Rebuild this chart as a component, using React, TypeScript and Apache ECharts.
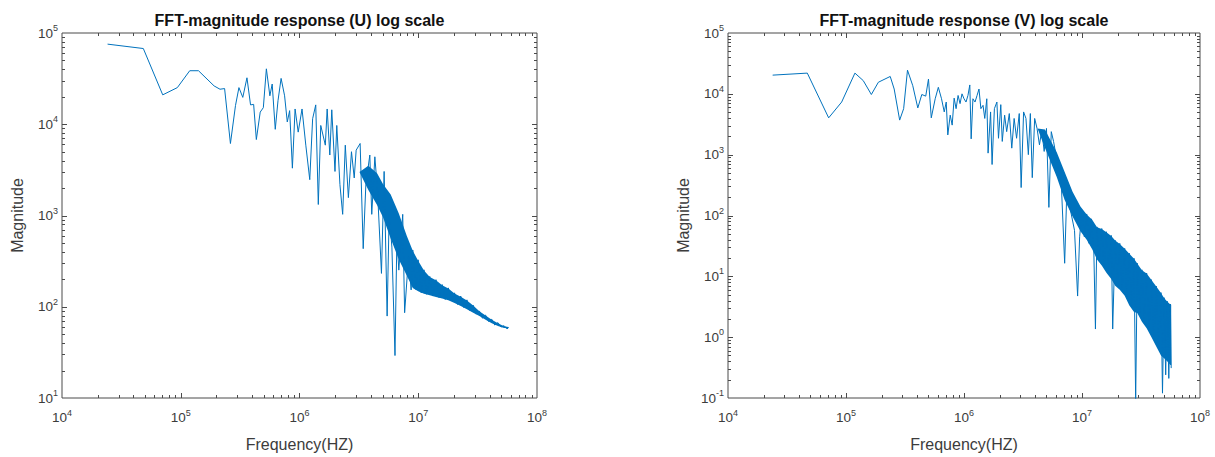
import React, { useEffect, useRef } from "react";
import * as echarts from "echarts";

// ---------- data: FFT magnitude (U) ----------
const freqU = [
  24200, 48400, 70500, 93600, 119000, 141000, 191000, 214000, 234000, 262000,
  289000, 309000, 333000, 361000, 387000, 411000, 433000, 467000, 496000, 526000,
  563000, 589000, 625000, 659000, 700000, 749000, 789000, 826000, 871000, 918000,
  975000, 1050000, 1130000, 1220000, 1290000, 1370000, 1440000, 1510000, 1650000, 1710000,
  1800000, 1870000, 1990000, 2060000, 2190000, 2310000, 2430000, 2580000, 2740000, 2890000,
  3000000, 3240000, 3440000, 3620000, 3910000, 4060000, 4310000, 4540000, 4900000, 5160000,
  5470000, 5690000, 6000000, 6370000, 6610000, 6860000, 7400000, 7680000, 8280000, 8710000,
  8990000, 9540000, 9980000, 10600000, 11170000, 11770000, 12500000, 13280000, 14100000, 14970000,
  15900000, 16880000, 17920000, 19040000, 20200000, 21460000, 22790000, 24200000, 25700000, 27300000,
  29000000, 30800000, 32700000, 34700000, 36900000, 39100000, 41600000, 44100000, 46900000, 49800000,
  52800000, 56100000, 57400000,
];
const magU = [
  75500, 67600, 21000, 25200, 38600, 38600, 26300, 24200, 24600, 6150,
  16000, 25200, 19700, 32300, 16300, 16500, 6800, 13600, 15200, 40500,
  20500, 27600, 8800, 18100, 31800, 20500, 10600, 14100, 3300, 14700,
  8200, 14700, 5900, 2470, 11500, 16300, 1320, 9700, 5900, 14700,
  4600, 14400, 3040, 9700, 2180, 1030, 5900, 1570, 5000, 2580,
  5200, 6150, 433, 2180, 4600, 1030, 4400, 1850, 232, 3040,
  79, 1030, 451, 29.2, 578, 252, 1030, 86, 351, 153,
  419, 155, 327, 142, 254, 137, 215, 131, 198, 126,
  175, 120, 161, 116, 142, 106, 131, 98, 119, 90,
  104, 83, 90, 75, 81, 69, 73, 63, 67, 60,
  62, 57, 60,
];
// dense core of the U spectrum (lower / upper envelope)
const bandFreqU = [3200000, 3800000, 4500000, 5060000, 5860000, 6860000, 8000000, 8990000, 9980000, 11170000, 12500000, 14100000, 15900000, 17920000, 20200000, 22790000, 25700000, 29000000, 32700000, 36900000, 41600000, 46900000, 52800000, 57400000];
const bandHiU = [3000, 3500, 2900, 2200, 1700, 1050, 600, 410, 320, 250, 212, 195, 172, 158, 140, 129, 117, 103, 89, 80, 72, 66, 61, 60];
const bandLoU = [3000, 1900, 1300, 950, 560, 330, 220, 160, 148, 139, 134, 128, 123, 118, 110, 102, 94, 86, 79, 72, 66, 61.5, 58.5, 58];

// ---------- data: FFT magnitude (V) ----------
const freqV = [
  23900, 47000, 71300, 91900, 119000, 140000, 164000, 188000, 237000, 256000,
  285000, 308000, 332000, 368000, 406000, 439000, 474000, 500000, 528000, 570000,
  606000, 645000, 680000, 707000, 729000, 764000, 794000, 825000, 857000, 891000,
  926000, 962000, 1000000, 1040000, 1080000, 1120000, 1150000, 1190000, 1240000, 1290000,
  1340000, 1390000, 1450000, 1500000, 1560000, 1600000, 1680000, 1730000, 1810000, 1900000,
  1960000, 2050000, 2110000, 2210000, 2300000, 2420000, 2540000, 2660000, 2790000, 2940000,
  3050000, 3200000, 3350000, 3510000, 3650000, 3790000, 3970000, 4160000, 4360000, 4560000,
  4780000, 5000000, 5240000, 5490000, 5740000, 6010000, 6350000, 6700000, 7130000, 7410000,
  8000000, 8640000, 9180000, 9550000,
  10000000, 10470000, 10960000, 11480000, 12020000, 12590000, 13000000, 13400000, 14000000, 14700000,
  15400000, 16100000, 16900000, 17700000, 18200000, 19100000, 20000000, 20900000, 21900000, 23000000,
  24000000, 25200000, 26400000, 27600000, 28500000, 29400000, 30800000, 32200000, 33700000, 35300000,
  37000000, 38800000, 40600000, 42600000, 44600000, 46700000, 48100000, 49600000, 51200000, 52700000,
  54400000, 56100000, 57000000,
];
const magV = [
  20300, 21900, 4030, 7330, 21900, 16500, 9750, 15500, 19300, 12000,
  3700, 5700, 24500, 13600, 5860, 9750, 9160, 17500, 4030, 8300,
  12800, 8300, 5040, 7330, 2110, 4460, 3060, 8500, 5700, 9400,
  6900, 10000, 8300, 7330, 9400, 14000, 1820, 8300, 7330, 9400,
  12000, 5700, 6470, 3940, 8300, 1060, 5040, 689, 5700, 7330,
  1860, 6640, 1650, 4460, 2390, 4740, 1280, 3940, 1860, 4740,
  288, 5040, 3940, 1000, 4740, 419, 3940, 2700, 1450, 2540,
  1130, 2700, 136, 2390, 1650, 1000, 537, 288, 16.4, 198,
  120, 57, 4.74, 44.6,
  120, 44.6, 106, 34.8, 88, 27, 1.36, 65, 18.6, 61,
  14.5, 54, 11.3, 47, 1.36, 39, 8.8, 34.8, 6.1, 28.8,
  4.74, 23.9, 3.26, 19.8, 0.09, 16.4, 2.54, 12.8, 1.75, 11.3,
  1.36, 8.8, 0.94, 6.9, 0.65, 5.4, 0.12, 4.46, 0.24, 3.9,
  0.21, 3.5, 0.31,
];
const bandFreqV = [4200000, 4850000, 6110000, 7130000, 8320000, 9700000, 10960000, 12200000, 13400000, 14700000, 16100000, 17700000, 19100000, 20900000, 23000000, 25200000, 27600000, 29400000, 32200000, 35300000, 38800000, 42600000, 46700000, 49600000, 52700000, 56100000, 57000000];
const bandHiV = [2700, 2600, 1100, 520, 245, 140, 104, 85, 64, 60, 53, 46, 39, 34, 28.5, 23.5, 19.5, 16.2, 12.6, 11.1, 8.7, 6.8, 5.3, 4.4, 3.85, 3.45, 3.4];
const bandLoV = [2700, 1300, 430, 180, 96, 55, 40, 28, 19, 15, 11.5, 9, 7, 6, 4.8, 3.3, 2.6, 2.5, 1.8, 1.4, 1.0, 0.7, 0.5, 0.45, 0.4, 0.35, 0.35];

// ---------- axes ----------
const xRange = [1e4, 1e8];
const yRangeU = [1e1, 1e5];
const yRangeV = [1e-1, 1e5];
const titles = ["FFT-magnitude response (U) log scale", "FFT-magnitude response (V) log scale"];
const xName = "Frequency(HZ)";
const yName = "Magnitude";

const FONT = "'Liberation Sans', Arial, Helvetica, sans-serif";
const LINE = "#0072BD";
const AX = "#4a4a4a";
const LBL = "#3c3c3c";

const GRIDS = [
  { left: 62, top: 33, width: 475, height: 370 },
  { left: 728, top: 33, width: 472, height: 370 },
];

function logTicks(lo: number, hi: number) {
  const out: number[][] = [];
  const e0 = Math.round(Math.log10(lo));
  const e1 = Math.round(Math.log10(hi));
  for (let e = e0; e < e1; e++) {
    for (let m = 1; m <= 9; m++) {
      if (m === 1 && e === e0) continue;
      out.push([m * Math.pow(10, e), m === 1 ? 5 : 3]);
    }
  }
  return out;
}

const px = (v: number) => Math.round(v) + 0.5;

function buildSeries(gi: number, freq: number[], mag: number[], bf: number[], blo: number[], bhi: number[], yr: number[]) {
  const xt = logTicks(xRange[0], xRange[1]);
  const yt = logTicks(yr[0], yr[1]);
  return [
    {
      type: "custom",
      xAxisIndex: gi,
      yAxisIndex: gi,
      silent: true,
      z: 1,
      data: [[bf[0], blo[0]]],
      renderItem: (_p: any, api: any) => {
        const pts: number[][] = [];
        for (let i = 0; i < bf.length; i++) pts.push(api.coord([bf[i], bhi[i]]));
        for (let i = bf.length - 1; i >= 0; i--) pts.push(api.coord([bf[i], blo[i]]));
        return { type: "polygon", shape: { points: pts }, style: { fill: LINE, opacity: 1 } };
      },
    },
    {
      type: "line",
      xAxisIndex: gi,
      yAxisIndex: gi,
      z: 2,
      showSymbol: false,
      symbol: "none",
      clip: true,
      lineStyle: { color: LINE, width: 1 },
      data: freq.map((f, i) => [f, mag[i]]),
    },
    {
      type: "custom",
      xAxisIndex: gi,
      yAxisIndex: gi,
      silent: true,
      z: 3,
      clip: false,
      data: xt.map((t) => [t[0], yr[0], t[1]]),
      renderItem: (_p: any, api: any) => {
        const v = api.value(0);
        const len = api.value(2);
        const b = api.coord([v, yr[0]]);
        const t = api.coord([v, yr[1]]);
        const x = px(b[0]);
        return {
          type: "group",
          children: [
            { type: "line", shape: { x1: x, y1: b[1], x2: x, y2: b[1] - len }, style: { stroke: AX, lineWidth: 1 } },
            { type: "line", shape: { x1: x, y1: t[1], x2: x, y2: t[1] + len }, style: { stroke: AX, lineWidth: 1 } },
          ],
        };
      },
    },
    {
      type: "custom",
      xAxisIndex: gi,
      yAxisIndex: gi,
      silent: true,
      z: 3,
      clip: false,
      data: yt.map((t) => [xRange[0], t[0], t[1]]),
      renderItem: (_p: any, api: any) => {
        const v = api.value(1);
        const len = api.value(2);
        const l = api.coord([xRange[0], v]);
        const r = api.coord([xRange[1], v]);
        const y = px(l[1]);
        return {
          type: "group",
          children: [
            { type: "line", shape: { x1: l[0], y1: y, x2: l[0] + len, y2: y }, style: { stroke: AX, lineWidth: 1 } },
            { type: "line", shape: { x1: r[0], y1: y, x2: r[0] - len, y2: y }, style: { stroke: AX, lineWidth: 1 } },
          ],
        };
      },
    },
  ];
}

const richLabel = {
  b: { fontSize: 13.5, lineHeight: 19, color: LBL, fontFamily: FONT },
  s: { fontSize: 9, lineHeight: 9, color: LBL, fontFamily: FONT, verticalAlign: "top" },
};
const fmt = (v: number) => `{b|10}{s|${Math.round(Math.log10(v))}}`;

function xAxis(gi: number) {
  return {
    gridIndex: gi,
    type: "log",
    logBase: 10,
    min: xRange[0],
    max: xRange[1],
    axisLine: { show: false },
    axisTick: { show: false },
    splitLine: { show: false },
    axisLabel: { formatter: fmt, rich: richLabel, margin: 10 },
    name: xName,
    nameLocation: "middle",
    nameGap: 38,
    nameTextStyle: { fontSize: 16, color: LBL, fontFamily: FONT },
  };
}
function yAxis(gi: number, yr: number[]) {
  return {
    gridIndex: gi,
    type: "log",
    logBase: 10,
    min: yr[0],
    max: yr[1],
    axisLine: { show: false },
    axisTick: { show: false },
    splitLine: { show: false },
    axisLabel: { formatter: fmt, rich: richLabel, margin: 4 },
    name: yName,
    nameLocation: "middle",
    nameGap: 37,
    nameRotate: 90,
    nameTextStyle: { fontSize: 16, color: LBL, fontFamily: FONT },
  };
}

export default function App() {
  const ref = useRef<HTMLDivElement>(null);
  useEffect(() => {
    if (!ref.current) return;
    const chart = echarts.init(ref.current, undefined, { renderer: "svg" });
    chart.setOption({
      animation: false,
      backgroundColor: "#ffffff",
      textStyle: { fontFamily: FONT },
      grid: GRIDS.map((g) => ({ ...g, show: true, borderColor: AX, borderWidth: 1, backgroundColor: "#fff" })),
      xAxis: [xAxis(0), xAxis(1)],
      yAxis: [yAxis(0, yRangeU), yAxis(1, yRangeV)],
      graphic: GRIDS.map((g, i) => ({
        type: "text",
        x: g.left + g.width / 2,
        y: 20,
        style: {
          text: titles[i],
          align: "center",
          verticalAlign: "middle",
          fontSize: 16,
          fontWeight: "bold",
          fontFamily: FONT,
          fill: "#111",
        },
      })),
      series: [
        ...buildSeries(0, freqU, magU, bandFreqU, bandLoU, bandHiU, yRangeU),
        ...buildSeries(1, freqV, magV, bandFreqV, bandLoV, bandHiV, yRangeV),
      ],
    });
    return () => chart.dispose();
  }, []);
  return <div ref={ref} style={{ position: "fixed", left: 0, top: 0, width: 1215, height: 457 }} />;
}
